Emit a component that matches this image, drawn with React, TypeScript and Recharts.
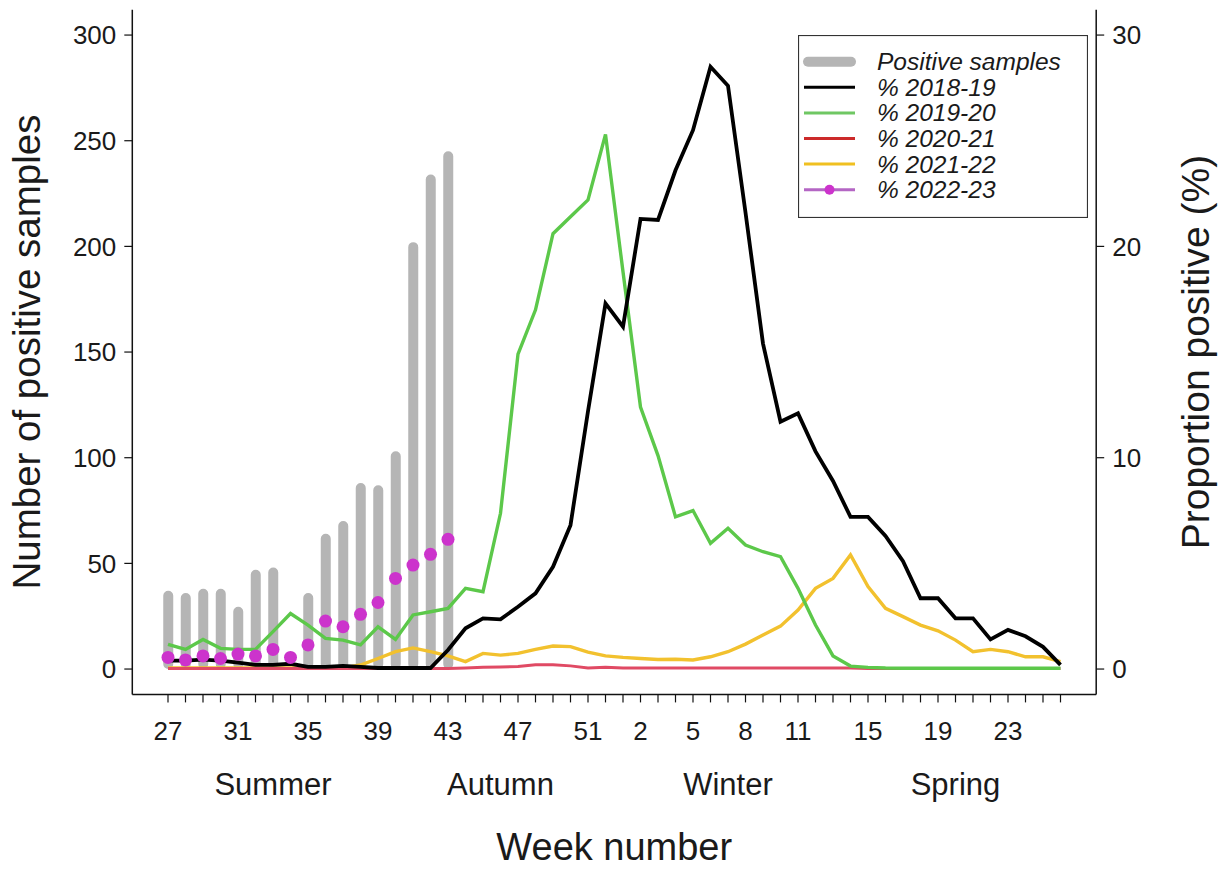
import React from 'react';
import { ComposedChart, Bar, Line, XAxis, YAxis, Legend } from 'recharts';

// ---- data ----
const weeks = [27, 28, 29, 30, 31, 32, 33, 34, 35, 36, 37, 38, 39, 40, 41, 42, 43, 44, 45, 46, 47, 48, 49, 50, 51, 52,
  1, 2, 3, 4, 5, 6, 7, 8, 9, 10, 11, 12, 13, 14, 15, 16, 17, 18, 19, 20, 21, 22, 23, 24, 25, 26];

const labelledWeeks = [27, 31, 35, 39, 43, 47, 51, 2, 5, 8, 11, 15, 19, 23];
const seasonNames = ['Summer', 'Autumn', 'Winter', 'Spring'];
const seasonCentreIdx = [6, 19, 32, 45];

const positiveSamples: (number | null)[] = [37, 36, 38, 38, 29.5, 47, 48, null, 36, 64, 70, 88, 87, 103, 202, 234, 245,
  null, null, null, null, null, null, null, null, null, null, null, null, null, null, null, null, null, null, null,
  null, null, null, null, null, null, null, null, null, null, null, null, null, null, null, null];

const pct2018: number[] = [0.4, 0.4, 0.45, 0.4, 0.3, 0.2, 0.2, 0.25, 0.1, 0.1, 0.15, 0.1, 0.05, 0.05, 0.05, 0.05, 0.9,
  1.93, 2.4, 2.35, 2.95, 3.58, 4.84, 6.81, 12.2, 17.3,
  16.2, 21.3, 21.25, 23.6, 25.5, 28.5, 27.6, 21.6, 15.4, 11.7, 12.1, 10.3, 8.9, 7.2, 7.2, 6.3, 5.1, 3.35, 3.35, 2.4,
  2.4, 1.4, 1.85, 1.55, 1.05, 0.2];

const pct2019: number[] = [1.17, 0.93, 1.4, 0.98, 0.93, 0.93, 1.77, 2.63, 2.08, 1.45, 1.37, 1.14, 2.0, 1.4, 2.56, 2.71,
  2.87, 3.82, 3.66, 7.37, 14.9, 17.0, 20.6, 21.4, 22.2, 25.3,
  18.8, 12.4, 10.1, 7.2, 7.5, 5.95, 6.66, 5.87, 5.55, 5.32, 3.82, 2.08, 0.62, 0.14, 0.08, 0.05, 0.04, 0.04, 0.04, 0.04,
  0.04, 0.04, 0.04, 0.04, 0.04, 0.04];

const pct2020: number[] = [0.03, 0.03, 0.03, 0.03, 0.03, 0.03, 0.03, 0.03, 0.03, 0.03, 0.03, 0.03, 0.03, 0.03, 0.03, 0.03,
  0.03, 0.05, 0.08, 0.1, 0.12, 0.2, 0.2, 0.15, 0.05, 0.08,
  0.05, 0.05, 0.05, 0.05, 0.05, 0.05, 0.05, 0.05, 0.05, 0.05, 0.05, 0.05, 0.05, 0.05, 0.02, 0.02, 0.02, 0.02, 0.02, 0.02,
  0.02, 0.02, 0.02, 0.02, 0.02, 0.02];

const pct2021: number[] = [0.05, 0.05, 0.05, 0.05, 0.05, 0.05, 0.05, 0.05, 0.05, 0.05, 0.05, 0.19, 0.5, 0.82, 1.0, 0.82,
  0.62, 0.35, 0.74, 0.66, 0.74, 0.93, 1.09, 1.06, 0.8, 0.62,
  0.55, 0.5, 0.45, 0.46, 0.43, 0.58, 0.82, 1.18, 1.61, 2.03, 2.79, 3.82, 4.29, 5.4, 3.9, 2.87, 2.48, 2.08, 1.81, 1.37,
  0.82, 0.93, 0.82, 0.58, 0.58, 0.35];

const pct2022: (number | null)[] = [0.55, 0.43, 0.62, 0.5, 0.71, 0.62, 0.93, 0.55, 1.14, 2.27, 2.0, 2.59, 3.15, 4.29,
  4.92, 5.43, 6.14, null, null, null, null, null, null, null, null, null, null, null, null, null, null, null, null,
  null, null, null, null, null, null, null, null, null, null, null, null, null, null, null, null, null, null, null];

const leftTicks = [0, 50, 100, 150, 200, 250, 300];
const rightTicks = [0, 10, 20, 30];
const legendLabels = ['Positive samples', '% 2018-19', '% 2019-20', '% 2020-21', '% 2021-22', '% 2022-23'];

// ---- styling / layout ----
const FONT = '"Liberation Sans", Arial, Helvetica, sans-serif';
const W = 1226;
const H = 869;
const PLOT_LEFT = 132.3;
const PLOT_RIGHT = 1096.2;
const PLOT_TOP = 9.7;
const PLOT_BOTTOM = 694.4;
const TEXT = '#1a1a1a';

const C_BAR = '#b5b5b5';
const C_2018 = '#000000';
const C_2019 = '#5cc84a';
const C_2020 = '#e04a64';
const C_2021 = '#f2c12e';
const C_2022 = '#cc33cc';

const data = weeks.map((w, i) => ({
  idx: i,
  week: w,
  samples: positiveSamples[i],
  p2018: pct2018[i],
  p2019: pct2019[i],
  p2020: pct2020[i],
  p2021: pct2021[i],
  p2022: pct2022[i],
}));

const allIdx = weeks.map((_, i) => i);

const XTick = (props: any) => {
  const { x, payload } = props;
  const i = payload.value as number;
  const wk = weeks[i];
  const showLabel = labelledWeeks.includes(wk);
  const s = seasonCentreIdx.indexOf(i);
  return (
    <g>
      {showLabel && (
        <text x={x} y={740} textAnchor="middle" fontSize={26} fill={TEXT} fontFamily={FONT}>
          {String(wk)}
        </text>
      )}
      {s >= 0 && (
        <text x={x} y={795} textAnchor="middle" fontSize={31} fill={TEXT} fontFamily={FONT}>
          {seasonNames[s]}
        </text>
      )}
    </g>
  );
};

const LeftTitle = () => (
  <text x={0} y={0} transform={`translate(40, ${(PLOT_TOP + PLOT_BOTTOM) / 2}) rotate(-90)`} textAnchor="middle"
    fontSize={38.5} fill={TEXT} fontFamily={FONT}>
    Number of positive samples
  </text>
);

const RightTitle = () => (
  <text x={0} y={0} transform={`translate(1209, ${(PLOT_TOP + PLOT_BOTTOM) / 2}) rotate(-90)`} textAnchor="middle"
    fontSize={39} fill={TEXT} fontFamily={FONT}>
    Proportion positive (%)
  </text>
);

const BottomTitle = () => (
  <text x={(PLOT_LEFT + PLOT_RIGHT) / 2} y={860} textAnchor="middle" fontSize={38} fill={TEXT} fontFamily={FONT}>
    Week number
  </text>
);

const legendSwatches = [
  { color: C_BAR, width: 10, dot: false },
  { color: C_2018, width: 3, dot: false },
  { color: '#6fc763', width: 3, dot: false },
  { color: '#cc2a2a', width: 3, dot: false },
  { color: '#f0c020', width: 3, dot: false },
  { color: '#b466c4', width: 3, dot: true },
];

const LegendBox = () => (
  <svg width={290} height={183} style={{ display: 'block' }}>
    <rect x={0.5} y={0.5} width={289} height={182} fill="#ffffff" stroke="#333" strokeWidth={1.2} />
    {legendLabels.map((lab, k) => {
      const cy = 26.7 + k * 25.6;
      const sw = legendSwatches[k];
      return (
        <g key={lab}>
          <line x1={sw.width > 5 ? 10 : 6} x2={sw.width > 5 ? 53 : 57} y1={cy} y2={cy} stroke={sw.color}
            strokeWidth={sw.width} strokeLinecap={sw.width > 5 ? 'round' : 'butt'} />
          {sw.dot && <circle cx={31.5} cy={cy} r={5} fill={C_2022} />}
          <text x={79} y={cy + 8.5} fontSize={24.5} fontStyle="italic" fill={TEXT} fontFamily={FONT}>
            {lab}
          </text>
        </g>
      );
    })}
  </svg>
);

export default function App() {
  return (
    <div style={{ width: W, height: H, background: '#fff' }}>
      <style>{`body{margin:0;overflow:hidden;background:#fff}`}</style>
      <ComposedChart width={W} height={H} data={data}
        margin={{ top: PLOT_TOP, right: 0, bottom: 0, left: 0 }}>
        <XAxis xAxisId="b" dataKey="idx" type="number" domain={[-2.04, 53.04]} ticks={allIdx} interval={0}
          allowDataOverflow orientation="bottom" height={H - PLOT_BOTTOM} tickSize={8} tick={<XTick />}
          stroke="#111" tickLine={{ stroke: '#111', strokeWidth: 1.2 }} axisLine={{ stroke: '#111', strokeWidth: 1.5 }}
          label={<BottomTitle />} />
        <XAxis xAxisId="t" dataKey="idx" type="number" domain={[-2.04, 53.04]} orientation="top" height={0}
          tick={false} tickLine={false} axisLine={{ stroke: '#111', strokeWidth: 1.5 }} />
        <YAxis yAxisId="left" orientation="left" width={PLOT_LEFT} domain={[-12, 312]} ticks={leftTicks}
          allowDataOverflow tickSize={8} tickMargin={8} stroke="#111"
          tick={{ fontSize: 26, fill: TEXT, fontFamily: FONT }} tickLine={{ stroke: '#111', strokeWidth: 1.2 }}
          axisLine={{ stroke: '#111', strokeWidth: 1.5 }} label={<LeftTitle />} />
        <YAxis yAxisId="right" orientation="right" width={W - PLOT_RIGHT} domain={[-1.2, 31.2]} ticks={rightTicks}
          allowDataOverflow tickSize={8} tickMargin={8} stroke="#111"
          tick={{ fontSize: 26, fill: TEXT, fontFamily: FONT }} tickLine={{ stroke: '#111', strokeWidth: 1.2 }}
          axisLine={{ stroke: '#111', strokeWidth: 1.5 }} label={<RightTitle />} />
        <Legend layout="vertical" align="center" verticalAlign="middle" content={<LegendBox />}
          wrapperStyle={{ left: 798, top: 35, width: 290, height: 183, right: 'auto', bottom: 'auto' }} />
        <Bar xAxisId="b" yAxisId="left" dataKey="samples" fill={C_BAR} barSize={10} radius={5}
          isAnimationActive={false} />
        <Line xAxisId="b" yAxisId="right" dataKey="p2021" type="linear" stroke={C_2021} strokeWidth={3.4}
          dot={false} isAnimationActive={false} />
        <Line xAxisId="b" yAxisId="right" dataKey="p2020" type="linear" stroke={C_2020} strokeWidth={3}
          dot={false} isAnimationActive={false} />
        <Line xAxisId="b" yAxisId="right" dataKey="p2019" type="linear" stroke={C_2019} strokeWidth={3.4}
          dot={false} isAnimationActive={false} />
        <Line xAxisId="b" yAxisId="right" dataKey="p2018" type="linear" stroke={C_2018} strokeWidth={3.8}
          dot={false} isAnimationActive={false} />
        <Line xAxisId="b" yAxisId="right" dataKey="p2022" type="linear" stroke="none" strokeWidth={0}
          dot={{ r: 6.5, fill: C_2022, stroke: 'none' }} activeDot={false} isAnimationActive={false} />
      </ComposedChart>
    </div>
  );
}
